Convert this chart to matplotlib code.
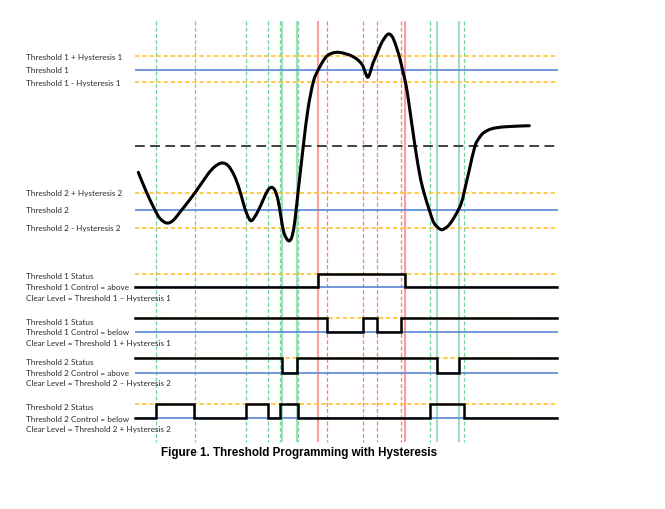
import matplotlib
matplotlib.use("Agg")
import matplotlib.pyplot as plt
from matplotlib.path import Path
from matplotlib.patches import PathPatch

# ---------------- data (figure pixel coordinates, y downward) ----------------
X_START, X_END = 135, 558

# analog waveform points
curve_x = [138.3, 146.7, 155, 160, 166.7, 173, 181.7, 195, 208, 215, 221.7, 228, 234, 239, 243, 246.5,
           250.7, 255, 260, 264, 268, 271.7, 275, 278, 281, 284, 288.3, 291.5, 294, 296, 298, 303.3,
           308, 313.3, 318.3, 326.7, 336.7, 348, 356, 362, 365.5, 367.7, 370, 373, 376, 381, 386, 389.3,
           393, 397, 400, 403, 406, 409, 415, 420, 424, 429.3, 434, 440.7, 445, 449, 453.5, 458.3, 461.5,
           464, 469.5, 475, 479.5, 484, 492, 505, 529.3]
curve_y = [173.3, 193.7, 211, 219.5, 224, 221.5, 211, 193.7, 175, 167.5, 164, 166.5, 176, 189, 203, 214,
           221.7, 217.5, 208, 199, 191, 188.3, 191.5, 201, 218, 234, 241.7, 239, 228, 212, 193.7, 147,
           110, 83, 70.7, 57.3, 53.3, 55.5, 59.5, 65.5, 74, 78.3, 74, 64, 57.3, 45, 37, 35,
           39, 50, 60, 73, 86, 105, 147, 177, 193.7, 211, 224, 230.5, 229.3, 226, 219.5, 211, 203.5,
           193.7, 170, 147, 138.5, 133.5, 129.7, 127.8, 126.7]

# threshold levels (top section)
orange_levels = [57.3, 83.3, 193.7, 228.7]
blue_levels = [70.7, 211.0]
mid_dashed_level = 147.0
top_labels = ["Threshold 1 + Hysteresis 1", "Threshold 1", "Threshold 1 - Hysteresis 1",
              "Threshold 2 + Hysteresis 2", "Threshold 2", "Threshold 2 - Hysteresis 2"]
top_label_y = [57.3, 70.7, 83.3, 193.7, 211.0, 229.0]

# vertical event markers
green_dashed_x = [155.7, 195, 245.7, 268, 280, 298, 430, 464.3]
green_solid_x = [282.3, 296.7, 436.7, 459.3]
red_solid_x = [318.3, 405]
red_dashed_x = [326.7, 363.3, 376.7, 400.7]
V_TOP, V_BOT = 22, 443

# status traces: (high level, low level, start state, toggle positions)
status_high = [274.7, 319.0, 359.3, 404.5]
status_low = [288.0, 333.0, 373.7, 419.3]
status_start_high = [False, True, True, False]
status_edges = [[318.3, 405],
                [326.7, 363.3, 376.7, 400.7],
                [282.3, 296.7, 436.7, 459.3],
                [155.7, 194.3, 245.7, 267.5, 280, 297.5, 430, 464.3]]
status_labels = [["Threshold 1 Status", "Threshold 1 Control = above", "Clear Level = Threshold 1 \u2013 Hysteresis 1"],
                 ["Threshold 1 Status", "Threshold 1 Control = below", "Clear Level = Threshold 1 + Hysteresis 1"],
                 ["Threshold 2 Status", "Threshold 2 Control = above", "Clear Level = Threshold 2 \u2013 Hysteresis 2"],
                 ["Threshold 2 Status", "Threshold 2 Control = below", "Clear Level = Threshold 2 + Hysteresis 2"]]
status_label_y = [[276.7, 287.7, 298.3], [322.3, 333.0, 343.3], [362.3, 373.3, 384.0], [408.0, 419.3, 429.7]]

caption = "Figure 1. Threshold Programming with Hysteresis"

# ---------------- drawing ----------------
W, H = 665, 510
fig = plt.figure(figsize=(W / 100, H / 100), dpi=100)
ax = fig.add_axes([0, 0, 1, 1])
ax.set_xlim(0, W)
ax.set_ylim(H, 0)
ax.axis("off")

ORANGE = "#ffc22e"
BLUE = "#5b87d6"
GREEN_D = "#6fd496"
GREEN_S = "#9fe0b8"
RED_S = "#ff9c9c"
RED_D = "#ff7a7a"
TXT = "#2b2b2b"
FONT = "Lato"
FS = 5.85

# vertical lines
ax.vlines(green_dashed_x, V_TOP, V_BOT, colors=GREEN_D, linewidth=0.9, linestyles=(0, (3.2, 1.8)), zorder=2)
ax.vlines(green_solid_x, V_TOP, V_BOT, colors=GREEN_S, linewidth=1.5, zorder=2)
ax.vlines(red_solid_x, V_TOP, V_BOT, colors=RED_S, linewidth=1.5, zorder=2)
ax.vlines(red_dashed_x, V_TOP, V_BOT, colors=RED_D, linewidth=0.9, linestyles=(0, (3.2, 1.8)), zorder=2)

# top section horizontal lines
DASH_O = (0, (2.6, 1.7))
ax.hlines(orange_levels, X_START, X_END, colors=ORANGE, linewidth=1.2, linestyles=DASH_O, zorder=3)
ax.hlines(blue_levels, X_START, X_END, colors=BLUE, linewidth=1.2, zorder=3)
ax.hlines([mid_dashed_level], X_START, X_END, colors="#404040", linewidth=1.4,
          linestyles=(0, (5, 2.8)), zorder=3)

# waveform: smooth path through the read points (Catmull-Rom as cubic Bezier)
pts = list(zip(curve_x, curve_y))
verts = [pts[0]]
codes = [Path.MOVETO]
n = len(pts)
for i in range(n - 1):
    p0 = pts[i - 1] if i > 0 else pts[i]
    p1 = pts[i]
    p2 = pts[i + 1]
    p3 = pts[i + 2] if i + 2 < n else pts[i + 1]
    c1 = (p1[0] + (p2[0] - p0[0]) / 6, p1[1] + (p2[1] - p0[1]) / 6)
    c2 = (p2[0] - (p3[0] - p1[0]) / 6, p2[1] - (p3[1] - p1[1]) / 6)
    verts += [c1, c2, p2]
    codes += [Path.CURVE4] * 3
ax.add_patch(PathPatch(Path(verts, codes), facecolor="none", edgecolor="black",
                       linewidth=2.2, capstyle="round", joinstyle="round", zorder=5))

for lab, y in zip(top_labels, top_label_y):
    ax.text(26, y, lab, fontsize=FS, family=FONT, color=TXT, va="center", ha="left")

# status traces
for hi, lo, st, edges, labs, ly in zip(status_high, status_low, status_start_high,
                                      status_edges, status_labels, status_label_y):
    ax.hlines([hi], X_START, X_END, colors=ORANGE, linewidth=1.2, linestyles=DASH_O, zorder=3)
    ax.hlines([lo], X_START, X_END, colors=BLUE, linewidth=1.2, zorder=3)
    xs = [X_START]
    state = st
    ys = [hi if state else lo]
    for e in edges:
        xs += [e, e]
        ys += [hi if state else lo]
        state = not state
        ys += [hi if state else lo]
    xs.append(X_END - 1)
    ys.append(hi if state else lo)
    ax.plot(xs, ys, color="black", linewidth=1.8, solid_joinstyle="miter", zorder=5)
    for lab, y in zip(labs, ly):
        ax.text(26, y, lab, fontsize=FS, family=FONT, color=TXT, va="center", ha="left")

ax.text(298.7, 453, caption, fontsize=8.4, family="Liberation Sans", weight="bold",
        color="black", ha="center", va="center")

fig.savefig("out.png", dpi=100)
